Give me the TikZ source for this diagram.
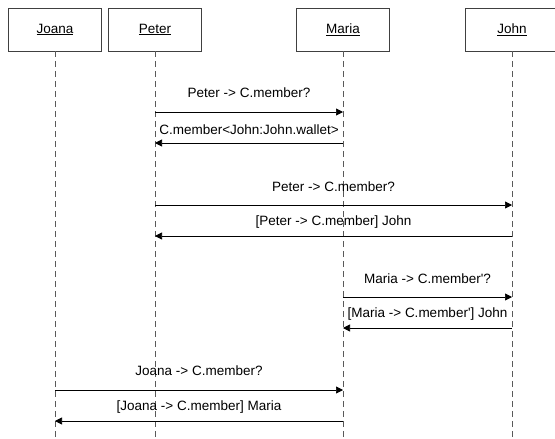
\documentclass[tikz,border=0pt]{standalone}
\usepackage{fontspec}
\setmainfont{Liberation Sans}
\usetikzlibrary{arrows.meta}
\begin{document}
\begin{tikzpicture}[x=1pt,y=-1pt,
  actor/.style={draw=black!75,line width=0.8pt,minimum width=93pt,minimum height=43pt,inner sep=0pt,font=\fontsize{13.5}{15}\selectfont,fill=white},
  life/.style={draw=black!65,line width=0.7pt,dash pattern=on 6pt off 4pt},
  msg/.style={draw=black,line width=0.7pt,-{Triangle[length=7pt,width=7pt]}},
  lbl/.style={font=\fontsize{13.5}{15}\selectfont,inner sep=1pt,fill=none}]
\useasboundingbox (0,0) rectangle (555,439);
\begin{scope}
\clip (0,0) rectangle (555,439);
\node[actor] (joana) at (55,29.5) {\underline{Joana}};
\node[actor] (peter) at (155,29.5) {\underline{Peter}};
\node[actor] (maria) at (343,29.5) {\underline{Maria}};
\node[actor] (john) at (512,29.5) {\underline{John}};
\coordinate (jb) at (55,439);
\coordinate (pb) at (155,439);
\coordinate (mb) at (343,439);
\coordinate (hb) at (512,439);
\draw[life] (joana.south) -- (jb);
\draw[life] (peter.south) -- (pb);
\draw[life] (maria.south) -- (mb);
\draw[life] (john.south) -- (hb);
\end{scope}
% message endpoints
\coordinate (p1) at (155,112); \coordinate (m1) at (343,112);
\coordinate (m2) at (343,143); \coordinate (p2) at (155,143);
\coordinate (p3) at (155,205); \coordinate (h3) at (512,205);
\coordinate (h4) at (512,236); \coordinate (p4) at (155,236);
\coordinate (m5) at (343,297); \coordinate (h5) at (512,297);
\coordinate (h6) at (512,328); \coordinate (m6) at (343,328);
\coordinate (j7) at (55,390); \coordinate (m7) at (343,390);
\coordinate (m8) at (343,421); \coordinate (j8) at (55,421);
\draw[msg] (p1) -- (m1);
\draw[msg] (m2) -- (p2);
\draw[msg] (p3) -- (h3);
\draw[msg] (h4) -- (p4);
\draw[msg] (m5) -- (h5);
\draw[msg] (h6) -- (m6);
\draw[msg] (j7) -- (m7);
\draw[msg] (m8) -- (j8);
\node[lbl] (l1) at (249,93) {Peter -> C.member?};
\node[lbl] (l2) at (249,130) {C.member<John:John.wallet>};
\node[lbl] (l3) at (333.5,187) {Peter -> C.member?};
\node[lbl] (l4) at (333.5,222) {[Peter -> C.member] John};
\node[lbl] (l5) at (427.5,279) {Maria -> C.member\textquotesingle?};
\node[lbl] (l6) at (427.5,314) {[Maria -> C.member\textquotesingle] John};
\node[lbl] (l7) at (199,371) {Joana -> C.member?};
\node[lbl] (l8) at (199,407) {[Joana -> C.member] Maria};
\end{tikzpicture}
\end{document}
